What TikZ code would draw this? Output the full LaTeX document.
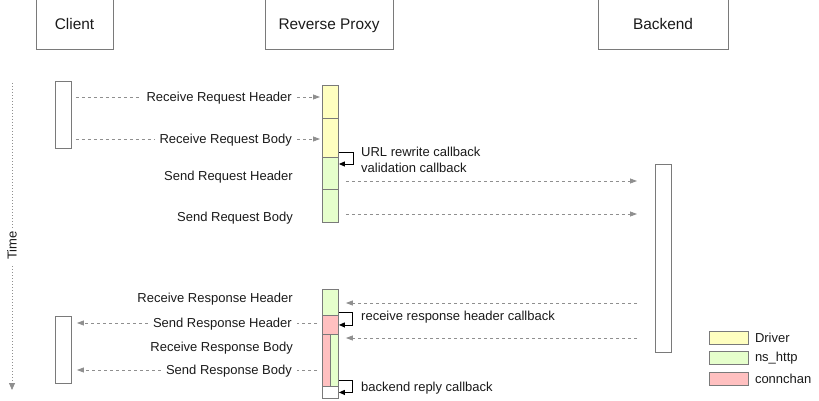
\documentclass[tikz,border=0pt]{standalone}
\usepackage{fontspec}
\setmainfont{Liberation Sans}
\usetikzlibrary{arrows.meta,positioning}
\definecolor{drvyellow}{HTML}{FFFFC0}
\definecolor{httpgreen}{HTML}{E6FFCC}
\definecolor{chanpink}{HTML}{FFC0C0}
\definecolor{boxgray}{HTML}{7A7A7A}
\definecolor{msggray}{HTML}{8F8F8F}
\definecolor{txt}{HTML}{1A1A1A}

\tikzset{
	actor/.style={draw=boxgray, line width=0.9pt, inner sep=0pt, minimum height=50pt, text height=14pt, text depth=3pt, text=txt, font=\fontsize{15.4}{18}\selectfont},
	life/.style={draw=boxgray, line width=0.9pt, fill=white, inner sep=0pt, minimum width=16pt, anchor=north west},
	msg/.style={draw=msggray, line width=0.8pt, dash pattern=on 3pt off 3pt},
	msgto/.style={msg, -{Triangle[length=7pt,width=5pt]}},
	lbl/.style={inner ysep=0pt, inner xsep=5pt, anchor=east, text height=9.3pt, text depth=0pt, text=txt, font=\fontsize{13}{16}\selectfont},
	cbtxt/.style={inner sep=0pt, anchor=west, align=left, text=txt, font=\fontsize{13}{16}\selectfont},
	cb/.style={draw=black, line width=0.9pt, -{Triangle[length=6pt,width=5pt]}},
	legbox/.style={draw=boxgray, line width=0.8pt, minimum width=39pt, minimum height=13pt, inner sep=0pt, anchor=north west}
}

\begin{document}
\begin{tikzpicture}[x=1pt, y=-1pt]
	\useasboundingbox (0,0) rectangle (819,401);

	\node[actor, minimum width=77pt] (client) at (74.5,24) {Client};
	\node[actor, minimum width=128pt] (proxy) at (329,24) {Reverse Proxy};
	\node[actor, minimum width=130pt] (backend) at (663,24) {Backend};

	\coordinate (t0) at (12,83);
	\coordinate (t1) at (12,390);
	\draw[draw=msggray, line width=0.8pt, dash pattern=on 1pt off 2pt, -{Triangle[length=7pt,width=6pt]}]
		(t0) -- node[pos=0.53, fill=white, rotate=90, lbl, anchor=center, inner xsep=4pt] {Time} (t1);

	\node[life, minimum height=67pt] (ca1) at (55,81) {};
	\node[life, minimum height=67pt] (ca2) at (55,316) {};
	\node[life, minimum height=188pt] (ba) at (655,164) {};

	\node[life, fill=drvyellow, minimum height=33pt] (p1) at (322,85) {};
	\node[life, fill=drvyellow, minimum height=39pt] (p2) at (322,118) {};
	\node[life, fill=httpgreen, minimum height=32pt] (p3) at (322,157) {};
	\node[life, fill=httpgreen, minimum height=33pt] (p4) at (322,189) {};

	\node[life, fill=httpgreen, minimum height=26pt] (q1) at (322,289) {};
	\node[life, fill=chanpink, minimum height=19pt] (q2) at (322,315) {};
	\node[life, fill=chanpink, minimum width=8pt, minimum height=52pt] (q3) at (322,334) {};
	\node[life, fill=httpgreen, minimum width=8pt, minimum height=52pt] (q4) at (330,334) {};
	\node[life, minimum height=12pt] (q5) at (322,386) {};

	\coordinate (m3) at (0,181);
	\coordinate (m4) at (0,214);
	\coordinate (m5) at (0,303);
	\coordinate (m7) at (0,338);

	\node[lbl] (rqh) at (297,97) {Receive Request Header};
	\node[lbl] (rqb) at (297,139) {Receive Request Body};
	\node[lbl] (sqh) at (298,176) {Send Request Header};
	\node[lbl] (sqb) at (298,217) {Send Request Body};
	\node[lbl] (rsh) at (298,298) {Receive Response Header};
	\node[lbl] (ssh) at (297,323) {Send Response Header};
	\node[lbl] (rsb) at (298,347) {Receive Response Body};
	\node[lbl] (ssb) at (297,370) {Send Response Body};

	\draw[msg, shorten <=4pt] (ca1.east |- rqh) -- (rqh.west);
	\draw[msgto, shorten >=2pt] (rqh.east) -- (p1.west |- rqh);
	\draw[msg, shorten <=4pt] (ca1.east |- rqb) -- (rqb.west);
	\draw[msgto, shorten >=2pt] (rqb.east) -- (p2.west |- rqb);

	\draw[msgto, shorten <=7pt, shorten >=18pt] (p3.east |- m3) -- (ba.west |- m3);
	\draw[msgto, shorten <=7pt, shorten >=18pt] (p4.east |- m4) -- (ba.west |- m4);

	\draw[msgto, shorten <=18pt, shorten >=7pt] (ba.west |- m5) -- (q1.east |- m5);
	\draw[msgto, shorten <=18pt, shorten >=7pt] (ba.west |- m7) -- (q4.east |- m7);

	\draw[msg, shorten <=5pt] (q2.west |- ssh) -- (ssh.east);
	\draw[msgto, shorten >=5pt] (ssh.west) -- (ca2.east |- ssh);
	\draw[msg, shorten <=5pt] (q3.west |- ssb) -- (ssb.east);
	\draw[msgto, shorten >=5pt] (ssb.west) -- (ca2.east |- ssb);

	\draw[cb] ([yshift=5pt]p2.south east) -- ++(15,0) |- ([yshift=-7pt]p3.north east);
	\draw[cb] ([yshift=3pt]q1.south east) -- ++(14,0) |- (q2.east);
	\draw[cb] ([yshift=6pt]q4.south east) -- ++(14,0) |- (q5.east);

	\node[cbtxt] (urlcb) at (361,159.5) {URL rewrite callback\\validation callback};
	\node[cbtxt] (rshcb) at (361,317.5) {receive response header callback};
	\node[cbtxt] (replycb) at (361,388.5) {backend reply callback};

	\node[legbox, fill=drvyellow] (ldrv) at (709,331) {};
	\node[legbox, fill=httpgreen] (lhttp) at (709,351) {};
	\node[legbox, fill=chanpink] (lchan) at (709,371.5) {};
	\node[cbtxt, right=6pt of ldrv] {Driver};
	\node[cbtxt, right=6pt of lhttp] {ns\_http};
	\node[cbtxt, right=6pt of lchan] {connchan};
\end{tikzpicture}
\end{document}
